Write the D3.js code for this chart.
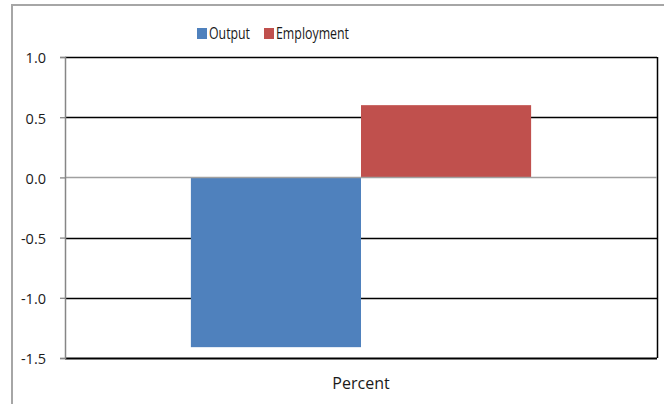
<!DOCTYPE html>
<html>
<head>
<meta charset="utf-8">
<script src="https://cdn.jsdelivr.net/npm/d3@7"></script>
<style>
  html, body { margin: 0; padding: 0; background: #fff; }
  svg { display: block; font-family: "Open Sans", "Liberation Sans", sans-serif; }
</style>
</head>
<body>
<svg id="chart" width="664" height="404"></svg>
<script>
// données du graphique
const categories = ["Percent"];
const seriesNames = ["Output", "Employment"];
const seriesValues = [-1.41, 0.6];
const seriesColors = ["#4f81bd", "#c0504d"];
const yTicks = [1.0, 0.5, 0.0, -0.5, -1.0, -1.5];

const svg = d3.select("#chart");

// cadre gris du graphique (coupé en haut et à droite)
svg.append("line").attr("x1", 12).attr("y1", 5).attr("x2", 664).attr("y2", 5)
  .attr("stroke", "#a6a6a6").attr("stroke-width", 2);
svg.append("line").attr("x1", 12).attr("y1", 4).attr("x2", 12).attr("y2", 404)
  .attr("stroke", "#a6a6a6").attr("stroke-width", 2);

// zone de tracé
const plot = { left: 65, right: 657, top: 57, bottom: 358 };

const y = d3.scaleLinear().domain([-1.5, 1.0]).range([plot.bottom, plot.top]);
const x0 = d3.scaleBand().domain(categories).range([plot.left, plot.right]);
const x1 = d3.scaleBand().domain(seriesNames)
  .range([0, x0.bandwidth()]).paddingOuter(0.74).paddingInner(0);

// lignes de grille
svg.append("g")
  .selectAll("line")
  .data(yTicks.filter(t => t !== 0))
  .join("line")
  .attr("x1", plot.left).attr("x2", plot.right)
  .attr("y1", d => Math.round(y(d)) + 0.5).attr("y2", d => Math.round(y(d)) + 0.5)
  .attr("stroke", "#000").attr("stroke-width", d => d === -1.5 ? 2 : 1.3);

// bordure droite
svg.append("line")
  .attr("x1", plot.right + 0.5).attr("x2", plot.right + 0.5)
  .attr("y1", y(1.0)).attr("y2", y(-1.5))
  .attr("stroke", "#000").attr("stroke-width", 1.5);

// barres
svg.append("g")
  .selectAll("rect")
  .data(seriesNames.map((s, i) => ({ s, v: seriesValues[i], c: seriesColors[i], cat: categories[0] })))
  .join("rect")
  .attr("x", d => x0(d.cat) + x1(d.s))
  .attr("width", x1.bandwidth())
  .attr("y", d => y(Math.max(0, d.v)))
  .attr("height", d => Math.abs(y(d.v) - y(0)))
  .attr("fill", d => d.c);

// ligne zéro (axe des catégories)
svg.append("line")
  .attr("x1", plot.left).attr("x2", plot.right)
  .attr("y1", Math.round(y(0)) + 0.5).attr("y2", Math.round(y(0)) + 0.5)
  .attr("stroke", "#a0a0a0").attr("stroke-width", 1.5);

// axe vertical (trait d'union simple comme signe moins)
const yAxis = d3.axisLeft(y)
  .tickValues(yTicks)
  .tickSize(5)
  .tickPadding(14)
  .tickFormat(d => d.toFixed(1));

const gy = svg.append("g")
  .attr("transform", `translate(${plot.left},0)`)
  .call(yAxis);
gy.attr("font-family", null).attr("font-size", null);
gy.select(".domain").attr("stroke", "#868686").attr("stroke-width", 1.5);
gy.selectAll(".tick line").attr("stroke", "#868686").attr("stroke-width", 1.3);
gy.selectAll(".tick text")
  .style("font-size", "14.5px")
  .attr("dy", "0.4em")
  .attr("fill", "#1a1a1a");

// libellé de catégorie
svg.append("text")
  .attr("x", x0(categories[0]) + x0.bandwidth() / 2)
  .attr("y", 389)
  .attr("text-anchor", "middle")
  .style("font-size", "16px")
  .attr("fill", "#1a1a1a")
  .text(categories[0]);

// légende
const legend = svg.append("g").attr("transform", "translate(197,28)");
const legendX = [0, 67];
const legendW = [41, 73];
seriesNames.forEach((s, i) => {
  const g = legend.append("g").attr("transform", `translate(${legendX[i]},0)`);
  g.append("rect").attr("width", 10).attr("height", 11).attr("fill", seriesColors[i]);
  g.append("text").attr("x", 12).attr("y", 11)
    .style("font-size", "16px")
    .attr("fill", "#1a1a1a")
    .attr("textLength", legendW[i]).attr("lengthAdjust", "spacingAndGlyphs")
    .text(s);
});
</script>
</body>
</html>
